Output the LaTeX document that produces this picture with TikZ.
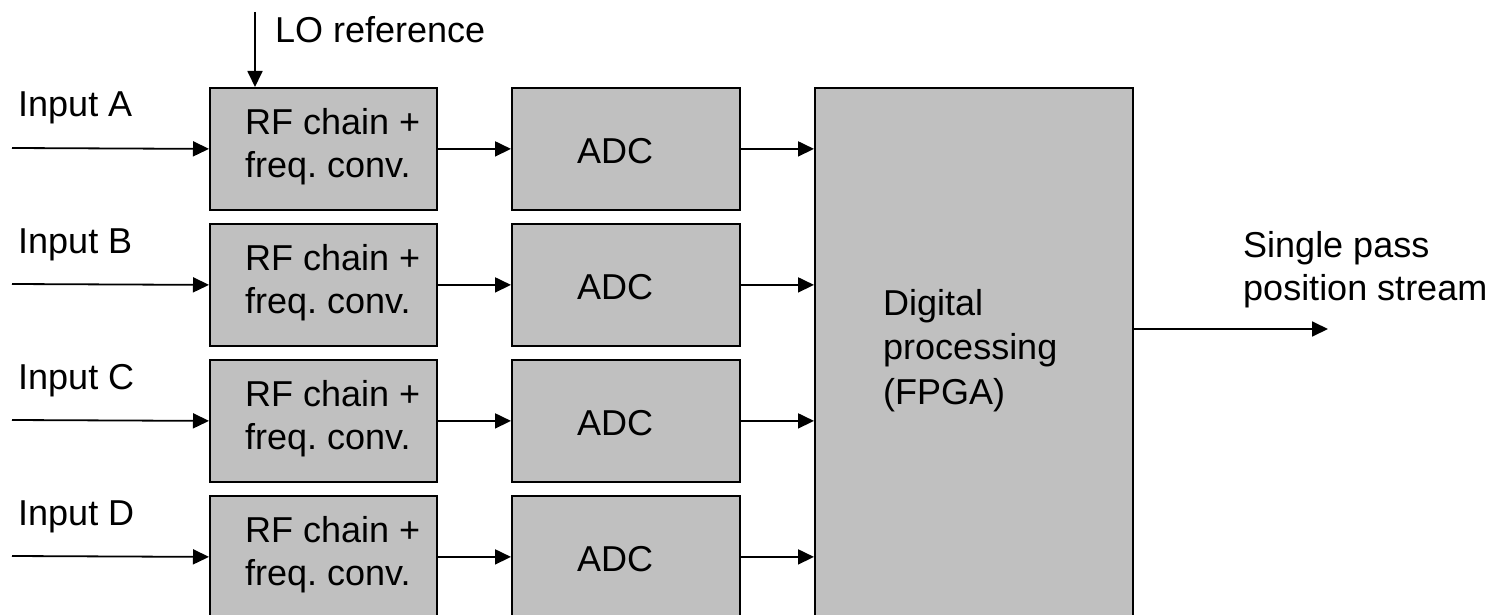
\documentclass[tikz,border=0pt]{standalone}
\usepackage{fontspec}
\setmainfont{Liberation Sans}
\usetikzlibrary{arrows.meta}
\definecolor{boxgray}{RGB}{192,192,192}
\tikzset{
  blk/.style={draw=black, line width=1.8pt, fill=boxgray, rectangle, inner sep=0pt, anchor=north west},
  rfblk/.style={blk, minimum width=227pt, minimum height=122pt},
  adcblk/.style={blk, minimum width=228pt, minimum height=122pt},
  fpgablk/.style={blk, minimum width=318pt, minimum height=613pt},
  lbl/.style={inner sep=0pt, anchor=base west, font=\fontsize{36}{43}\selectfont},
  clbl/.style={lbl, anchor=base},
  sig/.style={line width=1.8pt, -{Triangle[length=16pt,width=15pt]}},
}
\begin{document}
\begin{tikzpicture}[x=1pt, y=-1pt]
  \useasboundingbox (0,0) rectangle (1503,615);
  \clip (0,0) rectangle (1503,615);
  \fill[white] (0,0) rectangle (1503,615);

  % processing block
  \node[fpgablk] (fpga) at (814,87) {};
  \node[lbl] (fpga1) at (883,315) {Digital};
  \node[lbl] (fpga2) at (883,359) {processing};
  \node[lbl] (fpga3) at (883,404) {(FPGA)};

  % four identical input channels
  \foreach \ch [count=\i from 0] in {A,B,C,D} {
    \pgfmathsetmacro{\rowtop}{87+136*\i}
    \node[rfblk]  (rf\ch)  at (209,\rowtop) {};
    \node[adcblk] (adc\ch) at (511,\rowtop) {};
    \node[lbl] (rf\ch a) at (245,\rowtop+47) {RF chain +};
    \node[lbl] (rf\ch b) at (245,\rowtop+90) {freq.\ conv.};
    \node[clbl] (adc\ch t) at (615,\rowtop+76) {ADC};
    \node[lbl] (in\ch t) at (18,\rowtop+30) {Input \ch};
    \coordinate (in\ch) at (12,\rowtop+61);
    \draw[sig] (in\ch) -- (rf\ch.west);
    \draw[sig] (rf\ch.east) -- (adc\ch.west);
    \draw[sig] (adc\ch.east) -- (adc\ch.east -| fpga.west);
  }

  % local oscillator reference
  \coordinate (lo) at (255,12);
  \draw[sig] (lo) -- (lo |- rfA.north);
  \node[lbl] (lot) at (275,43) {LO reference};

  % output stream
  \coordinate (out) at (1328,329);
  \draw[sig] (out -| fpga.east) -- (out);
  \node[lbl] (out1) at (1243,257) {Single pass};
  \node[lbl] (out2) at (1243,300) {position stream};
\end{tikzpicture}
\end{document}
